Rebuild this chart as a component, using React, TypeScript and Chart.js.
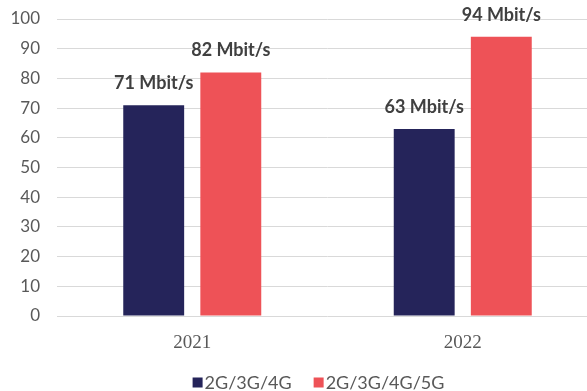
import React, { useEffect, useRef } from "react";
import { Chart, registerables } from "chart.js";

Chart.register(...registerables);

const categories = ["2021", "2022"];
const seriesNames = ["2G/3G/4G", "2G/3G/4G/5G"];
const values4G = [71, 63];
const values5G = [82, 94];
const seriesColors = ["#25245a", "#ee5257"];
const yTicks = [0, 10, 20, 30, 40, 50, 60, 70, 80, 90, 100];
const unit = " Mbit/s";

const valueLabels = {
  id: "valueLabels",
  afterDatasetsDraw(chart: any) {
    const ctx = chart.ctx;
    ctx.save();
    ctx.font = "bold 18px Lato";
    ctx.fillStyle = "#404040";
    ctx.textAlign = "center";
    ctx.textBaseline = "alphabetic";
    chart.data.datasets.forEach((ds: any, i: number) => {
      const meta = chart.getDatasetMeta(i);
      meta.data.forEach((bar: any, j: number) => {
        ctx.fillText(ds.data[j] + unit, bar.x, bar.y - 16);
      });
    });
    ctx.restore();
  },
};

const customLegend = {
  id: "customLegend",
  afterDraw(chart: any) {
    const ctx = chart.ctx;
    ctx.save();
    ctx.font = "18px Lato";
    ctx.textBaseline = "middle";
    ctx.textAlign = "left";
    const box = 10;
    const gapBox = 2;
    const gapItem = 22;
    const items = chart.data.datasets.map((ds: any) => ({
      text: ds.label,
      color: ds.backgroundColor,
      w: ctx.measureText(ds.label).width,
    }));
    const total = items.reduce((s: number, it: any) => s + box + gapBox + it.w, 0) + gapItem * (items.length - 1);
    let x = 318.5 - total / 2;
    const cy = 382.5;
    items.forEach((it: any) => {
      ctx.fillStyle = it.color;
      ctx.fillRect(x, cy - box / 2, box, box);
      x += box + gapBox;
      ctx.fillStyle = "#595959";
      ctx.fillText(it.text, x, cy + 1);
      x += it.w + gapItem;
    });
    ctx.restore();
  },
};

export default function App() {
  const ref = useRef<HTMLCanvasElement>(null);
  useEffect(() => {
    if (!ref.current) return;
    const chart = new Chart(ref.current, {
      type: "bar",
      data: {
        labels: categories,
        datasets: [
          { label: seriesNames[0], data: values4G, backgroundColor: seriesColors[0] },
          { label: seriesNames[1], data: values5G, backgroundColor: seriesColors[1] },
        ],
      },
      options: {
        animation: false,
        responsive: false,
        maintainAspectRatio: false,
        layout: { padding: { top: 19, right: 7, left: 0, bottom: 0 } },
        datasets: { bar: { categoryPercentage: 0.57, barPercentage: 0.79 } },
        plugins: { legend: { display: false }, tooltip: { enabled: false } },
        scales: {
          x: {
            grid: { display: false, drawTicks: false },
            border: { display: false },
            ticks: { color: "#595959", font: { family: "Liberation Serif", size: 19 }, padding: 16 },
            afterFit(scale: any) { scale.height = 75; scale.paddingLeft = 0; scale.paddingRight = 0; },
          },
          y: {
            min: 0,
            max: 100,
            afterBuildTicks(scale: any) { scale.ticks = yTicks.map((v) => ({ value: v })); },
            grid: { color: "#d9d9d9", drawTicks: false, lineWidth: 1 },
            border: { display: false },
            ticks: { color: "#595959", font: { family: "Lato", size: 17 }, padding: 17 },
            afterFit(scale: any) { scale.width = 57; scale.paddingTop = 0; scale.paddingBottom = 0; },
          },
        },
      },
      plugins: [valueLabels, customLegend],
    });
    return () => chart.destroy();
  }, []);
  return (
    <div style={{ position: "fixed", left: 0, top: 0, width: 605, height: 391, background: "#fff" }}>
      <canvas ref={ref} width={605} height={391} style={{ display: "block", width: 605, height: 391 }} />
    </div>
  );
}
